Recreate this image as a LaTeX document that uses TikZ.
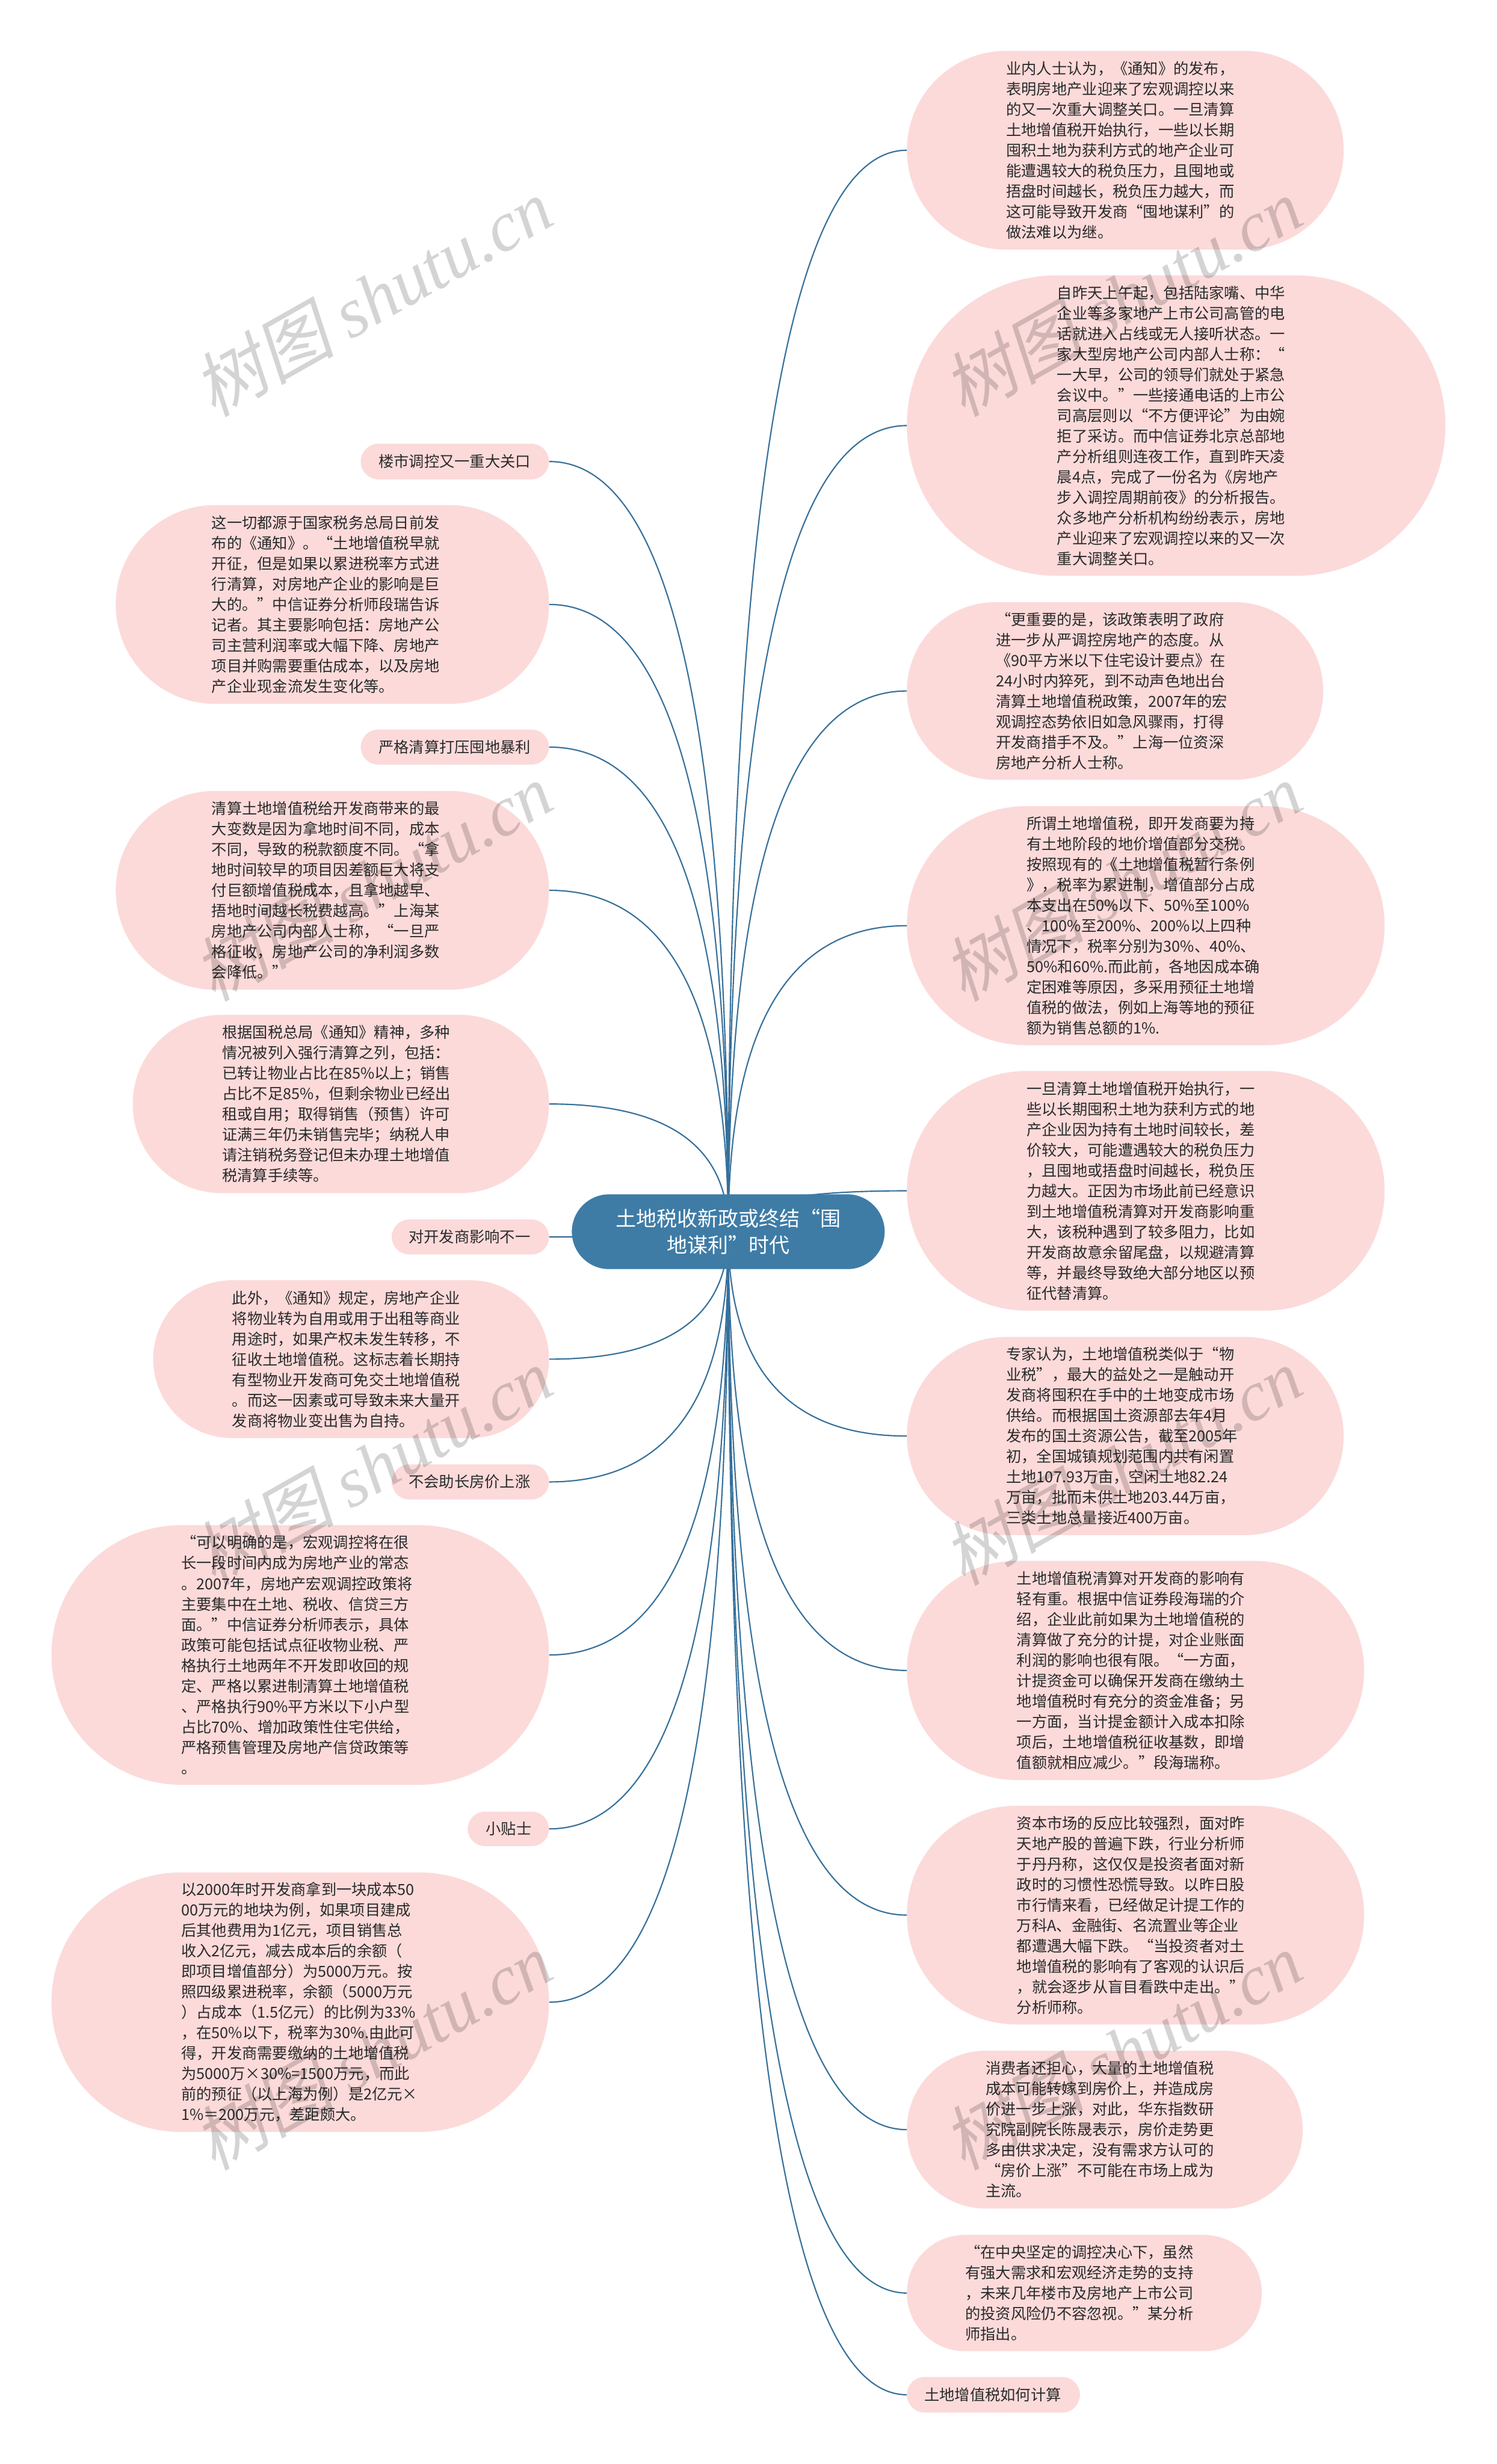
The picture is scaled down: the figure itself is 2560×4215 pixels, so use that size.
\documentclass[tikz,border=0pt]{standalone}
\usepackage{fontspec}
\usetikzlibrary{calc,backgrounds}
\setmainfont{Noto Sans CJK SC}
\newfontfamily\wmcjk[FakeSlant=0.2]{Noto Sans CJK SC}
\newfontfamily\wmlatin{Liberation Serif}
\definecolor{pinkfill}{HTML}{FCDADA}
\definecolor{hubfill}{HTML}{3E7CA6}
\definecolor{linecol}{HTML}{36709A}
\definecolor{txt}{HTML}{2A2A2A}
\tikzset{
  pill/.style={fill=pinkfill,draw=none,inner sep=0pt,text=txt,align=left,
    font=\fontsize{26pt}{35pt}\selectfont},
  hubnode/.style={fill=hubfill,draw=none,inner sep=0pt,text=white,align=center,
    font=\fontsize{35pt}{45pt}\selectfont},
  branch/.style={draw=linecol,line width=2.2pt},
  wm/.style={rotate=29.5,opacity=0.17,text=black,inner sep=0pt,
    font=\fontsize{121pt}{121pt}\selectfont}
}
\newcommand{\pillnode}[7]{%
  \pgfmathsetmacro\pW{#4-#2}\pgfmathsetmacro\pH{#5-#3}%
  \pgfmathsetmacro\pCX{(#2+#4)/2}\pgfmathsetmacro\pCY{(#3+#5)/2}%
  \pgfmathsetmacro\pR{(#5-#3)/2}\pgfmathsetmacro\pL{#6-#2}%
  \node[pill,minimum width=\pW pt,minimum height=\pH pt,rounded corners=\pR pt,text width=\pW pt] (#1) at (\pCX,\pCY) {\leftskip=\pL pt\relax #7\par};%
}
\newcommand{\branchto}[2]{%
  \draw[branch] (hub.center) .. controls ($(hub.center)!0.667!(hub.center |- #1.#2)$) and ($(#1.#2)!0.667!(hub.center |- #1.#2)$) .. (#1.#2);%
}
\newcommand{\wmark}[3]{%
  \node[wm] (#1) at (#2,#3) {{\wmcjk 树图} {\wmlatin\itshape shutu.cn}};%
}
\begin{document}
\begin{tikzpicture}[x=1pt,y=-1pt]
\useasboundingbox (0,0) rectangle (2560,4215);
% hub
\node[hubnode,minimum width=535pt,minimum height=128pt,rounded corners=64pt] (hub) at (1245.5,2107) {土地税收新政或终结“围\\地谋利”时代};
% right
\pillnode{ra}{1551}{87}{2298}{427}{1721}{业内人士认为，《通知》的发布，\\表明房地产业迎来了宏观调控以来\\的又一次重大调整关口。一旦清算\\土地增值税开始执行，一些以长期\\囤积土地为获利方式的地产企业可\\能遭遇较大的税负压力，且囤地或\\捂盘时间越长，税负压力越大，而\\这可能导致开发商“囤地谋利”的\\做法难以为继。}
\pillnode{rb}{1551}{471}{2472}{985}{1808}{自昨天上午起，包括陆家嘴、中华\\企业等多家地产上市公司高管的电\\话就进入占线或无人接听状态。一\\家大型房地产公司内部人士称：“\\一大早，公司的领导们就处于紧急\\会议中。”一些接通电话的上市公\\司高层则以“不方便评论”为由婉\\拒了采访。而中信证券北京总部地\\产分析组则连夜工作，直到昨天凌\\晨4点，完成了一份名为《房地产\\步入调控周期前夜》的分析报告。\\众多地产分析机构纷纷表示，房地\\产业迎来了宏观调控以来的又一次\\重大调整关口。}
\pillnode{rc}{1551}{1030}{2263}{1334}{1703.5}{“更重要的是，该政策表明了政府\\进一步从严调控房地产的态度。从\\《90平方米以下住宅设计要点》在\\24小时内猝死，到不动声色地出台\\清算土地增值税政策，2007年的宏\\观调控态势依旧如急风骤雨，打得\\开发商措手不及。”上海一位资深\\房地产分析人士称。}
\pillnode{rd}{1551}{1379}{2368}{1788}{1756}{所谓土地增值税，即开发商要为持\\有土地阶段的地价增值部分交税。\\按照现有的《土地增值税暂行条例\\》，税率为累进制，增值部分占成\\本支出在50\%以下、50\%至100\%\\、100\%至200\%、200\%以上四种\\情况下，税率分别为30\%、40\%、\\50\%和60\%.而此前，各地因成本确\\定困难等原因，多采用预征土地增\\值税的做法，例如上海等地的预征\\额为销售总额的1\%.}
\pillnode{re}{1551}{1832}{2368}{2242}{1756}{一旦清算土地增值税开始执行，一\\些以长期囤积土地为获利方式的地\\产企业因为持有土地时间较长，差\\价较大，可能遭遇较大的税负压力\\，且囤地或捂盘时间越长，税负压\\力越大。正因为市场此前已经意识\\到土地增值税清算对开发商影响重\\大，该税种遇到了较多阻力，比如\\开发商故意余留尾盘，以规避清算\\等，并最终导致绝大部分地区以预\\征代替清算。}
\pillnode{rf}{1551}{2287}{2298}{2626}{1721}{专家认为，土地增值税类似于“物\\业税”，最大的益处之一是触动开\\发商将囤积在手中的土地变成市场\\供给。而根据国土资源部去年4月\\发布的国土资源公告，截至2005年\\初，全国城镇规划范围内共有闲置\\土地107.93万亩，空闲土地82.24\\万亩，批而未供土地203.44万亩，\\三类土地总量接近400万亩。}
\pillnode{rg}{1551}{2670}{2333}{3045}{1739}{土地增值税清算对开发商的影响有\\轻有重。根据中信证券段海瑞的介\\绍，企业此前如果为土地增值税的\\清算做了充分的计提，对企业账面\\利润的影响也很有限。“一方面，\\计提资金可以确保开发商在缴纳土\\地增值税时有充分的资金准备；另\\一方面，当计提金额计入成本扣除\\项后，土地增值税征收基数，即增\\值额就相应减少。”段海瑞称。}
\pillnode{rh}{1551}{3089}{2333}{3463}{1739}{资本市场的反应比较强烈，面对昨\\天地产股的普遍下跌，行业分析师\\于丹丹称，这仅仅是投资者面对新\\政时的习惯性恐慌导致。以昨日股\\市行情来看，已经做足计提工作的\\万科A、金融街、名流置业等企业\\都遭遇大幅下跌。“当投资者对土\\地增值税的影响有了客观的认识后\\，就会逐步从盲目看跌中走出。”\\分析师称。}
\pillnode{ri}{1551}{3508}{2228}{3778}{1686}{消费者还担心，大量的土地增值税\\成本可能转嫁到房价上，并造成房\\价进一步上涨，对此，华东指数研\\究院副院长陈晟表示，房价走势更\\多由供求决定，没有需求方认可的\\“房价上涨”不可能在市场上成为\\主流。}
\pillnode{rj}{1551}{3823}{2158}{4022}{1651}{“在中央坚定的调控决心下，虽然\\有强大需求和宏观经济走势的支持\\，未来几年楼市及房地产上市公司\\的投资风险仍不容忽视。”某分析\\师指出。}
\pillnode{rk}{1551}{4066}{1847}{4127}{1581}{土地增值税如何计算}
% left
\pillnode{la}{617}{759}{939}{820}{647.6}{楼市调控又一重大关口}
\pillnode{lb}{198}{864}{939}{1204}{362}{这一切都源于国家税务总局日前发\\布的《通知》。“土地增值税早就\\开征，但是如果以累进税率方式进\\行清算，对房地产企业的影响是巨\\大的。”中信证券分析师段瑞告诉\\记者。其主要影响包括：房地产公\\司主营利润率或大幅下降、房地产\\项目并购需要重估成本，以及房地\\产企业现金流发生变化等。}
\pillnode{lc}{617}{1248}{939}{1308}{647.6}{严格清算打压囤地暴利}
\pillnode{ld}{198}{1353}{939}{1693}{362}{清算土地增值税给开发商带来的最\\大变数是因为拿地时间不同，成本\\不同，导致的税款额度不同。“拿\\地时间较早的项目因差额巨大将支\\付巨额增值税成本，且拿地越早、\\捂地时间越长税费越高。”上海某\\房地产公司内部人士称，“一旦严\\格征收，房地产公司的净利润多数\\会降低。”}
\pillnode{le}{227}{1736}{939}{2041}{380}{根据国税总局《通知》精神，多种\\情况被列入强行清算之列，包括：\\已转让物业占比在85\%以上；销售\\占比不足85\%，但剩余物业已经出\\租或自用；取得销售（预售）许可\\证满三年仍未销售完毕；纳税人申\\请注销税务登记但未办理土地增值\\税清算手续等。}
\pillnode{lf}{670}{2086}{939}{2146}{699}{对开发商影响不一}
\pillnode{lg}{262}{2190}{939}{2460}{397}{此外，《通知》规定，房地产企业\\将物业转为自用或用于出租等商业\\用途时，如果产权未发生转移，不\\征收土地增值税。这标志着长期持\\有型物业开发商可免交土地增值税\\。而这一因素或可导致未来大量开\\发商将物业变出售为自持。}
\pillnode{lh}{670}{2505}{939}{2565}{699}{不会助长房价上涨}
\pillnode{li}{88}{2609}{939}{3053}{310}{“可以明确的是，宏观调控将在很\\长一段时间内成为房地产业的常态\\。2007年，房地产宏观调控政策将\\主要集中在土地、税收、信贷三方\\面。”中信证券分析师表示，具体\\政策可能包括试点征收物业税、严\\格执行土地两年不开发即收回的规\\定、严格以累进制清算土地增值税\\、严格执行90\%平方米以下小户型\\占比70\%、增加政策性住宅供给，\\严格预售管理及房地产信贷政策等\\。}
\pillnode{lj}{800}{3099}{939}{3158}{831}{小贴士}
\pillnode{lk}{88}{3203}{939}{3647}{310}{以2000年时开发商拿到一块成本50\\00万元的地块为例，如果项目建成\\后其他费用为1亿元，项目销售总\\收入2亿元，减去成本后的余额（\\即项目增值部分）为5000万元。按\\照四级累进税率，余额（5000万元\\）占成本（1.5亿元）的比例为33\%\\，在50\%以下，税率为30\%.由此可\\得，开发商需要缴纳的土地增值税\\为5000万×30\%=1500万元，而此\\前的预征（以上海为例）是2亿元×\\1\%＝200万元，差距颇大。}
% connectors under the nodes
\begin{pgfonlayer}{background}
\fill[white] (0,0) rectangle (2560,4215);
\branchto{ra}{west}\branchto{rb}{west}\branchto{rc}{west}\branchto{rd}{west}
\branchto{re}{west}\branchto{rf}{west}\branchto{rg}{west}\branchto{rh}{west}
\branchto{ri}{west}\branchto{rj}{west}\branchto{rk}{west}
\branchto{la}{east}\branchto{lb}{east}\branchto{lc}{east}\branchto{ld}{east}
\branchto{le}{east}\branchto{lf}{east}\branchto{lg}{east}\branchto{lh}{east}
\branchto{li}{east}\branchto{lj}{east}\branchto{lk}{east}
\end{pgfonlayer}
% watermarks
\wmark{wa}{637}{508}\wmark{wb}{1919}{508}
\wmark{wc}{637}{1508}\wmark{wd}{1919}{1508}
\wmark{we}{637}{2508}\wmark{wf}{1919}{2508}
\wmark{wg}{637}{3508}\wmark{wh}{1919}{3508}
\end{tikzpicture}
\end{document}
